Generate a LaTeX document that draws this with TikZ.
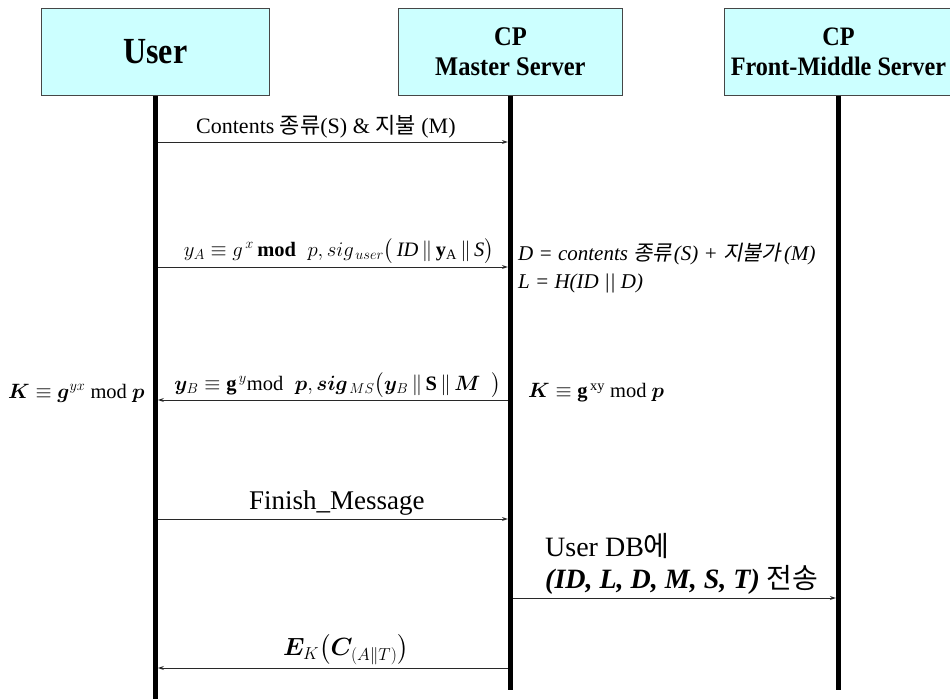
\documentclass[tikz,border=0pt]{standalone}
\usepackage{amsmath,bm}
\usepackage{graphicx}
\usepackage{fontspec}
\setmainfont{Liberation Serif}
\newfontfamily\kr{Noto Sans CJK KR}
\newfontfamily\krit[FakeSlant=0.2]{Noto Sans CJK KR}
\usetikzlibrary{arrows.meta}
\definecolor{boxfill}{RGB}{204,255,255}
\definecolor{boxline}{RGB}{70,70,70}
\definecolor{msgline}{RGB}{40,40,40}
% tall, narrow title lettering
\newcommand\talltext[2][1.1]{\scalebox{1}[#1]{#2}}
\tikzset{
  actor/.style={draw=boxline, fill=boxfill, line width=0.8pt, align=center,
    anchor=north west, inner sep=0pt},
  lifeline/.style={line width=5pt, black},
  msg/.style={draw=msgline, line width=1pt, -{Stealth[length=6pt,width=4pt]}},
  lbl/.style={inner sep=0pt},
  side/.style={inner sep=0pt, anchor=west, align=left},
}
\begin{document}
\begin{tikzpicture}[x=1pt,y=-1pt]
\useasboundingbox (0,0) rectangle (950,699);

% actor boxes
\node[actor, minimum width=228pt, minimum height=87pt,
      font=\bfseries\fontsize{32}{34}\selectfont] (user) at (41,8) {\talltext[1.15]{User}};
\node[actor, minimum width=224pt, minimum height=87pt,
      font=\bfseries\fontsize{24.5}{30}\selectfont] (ms) at (398,8)
      {\talltext{CP}\\\talltext{Master Server}};
\node[actor, minimum width=228pt, minimum height=87pt,
      font=\bfseries\fontsize{24.2}{30}\selectfont] (fm) at (724,8)
      {\talltext{CP}\\\talltext{Front-Middle Server}};

% lifeline ends
\coordinate (userend) at (user.south |- 0,699);
\coordinate (msend) at (ms.south |- 0,690);
\coordinate (fmend) at (fm.south |- 0,690);
\draw[lifeline] (user.south) -- (userend);
\draw[lifeline] (ms.south) -- (msend);
\draw[lifeline] (fm.south) -- (fmend);

% message anchor points on the lifelines
\foreach \n/\y in {1/142,2/267,3/400,4/519,6/668}{
  \coordinate (u\n) at ([xshift=2.5pt]user.south |- 0,\y);
  \coordinate (m\n) at ([xshift=-2.5pt]ms.south |- 0,\y);
}
\coordinate (m5) at ([xshift=2.5pt]ms.south |- 0,598);
\coordinate (f5) at ([xshift=-2.5pt]fm.south |- 0,598);

% messages
\draw[msg] (u1) -- (m1)
  node[lbl, midway, above=3pt, xshift=-7pt, font=\fontsize{22}{24}\selectfont] (l1)
  {Contents {\kr 종류}(S) \& {\kr 지불} (M)};
\draw[msg] (u2) -- (m2)
  node[lbl, midway, above=3pt, xshift=6pt, font=\fontsize{20.5}{22}\selectfont] (l2)
  {$y_A \equiv g^{\,x}\,\mathbf{mod}\;\;p, sig_{\,user}\bigl(\,\mathit{ID}\,\|\,\mathbf{y}_{\mathrm{A}}\,\|\,\mathit{S}\bigr)$};
\draw[msg] (m3) -- (u3)
  node[lbl, midway, above=2pt, xshift=5pt, font=\fontsize{20.5}{22}\selectfont] (l3)
  {$\bm{y}_B \equiv \mathbf{g}^{\,y}\mathrm{mod}\;\;\bm{p}, \bm{sig}_{\,MS}\bigl(\bm{y}_B\,\|\,\mathbf{S}\,\|\,\bm{M}\;\;\bigr)$};
\draw[msg] (u4) -- (m4)
  node[lbl, midway, above=3pt, xshift=4pt, font=\fontsize{27}{29}\selectfont] (l4) {Finish\_Message};
\draw[msg] (m5) -- (f5);
\node[side, font=\fontsize{28}{32}\selectfont] (l5) at (545,564)
  {User DB{\kr 에}\\\textbf{\textit{(ID, L, D, M, S, T)}} {\kr 전송}};
\draw[msg] (m6) -- (u6)
  node[lbl, midway, above=3pt, xshift=13pt, font=\fontsize{23}{25}\selectfont] (l6)
  {$\bm{E}_{K}\bigl(\bm{C}_{(A\|T)}\bigr)$};

% computations beside the lifelines
\node[side, font=\itshape\fontsize{21}{28}\selectfont] (dl) at (518,268)
  {D = contents {\krit 종류}\kern2pt(S) + {\krit 지불가}\kern3pt(M)\\L = H(ID || D)};
\node[side, font=\fontsize{20.5}{22}\selectfont] (ku) at (8,393)
  {$\bm{K} \equiv \bm{g}^{yx}$ mod $\bm{p}$};
\node[side, font=\fontsize{20.5}{22}\selectfont] (km) at (528,393)
  {$\bm{K} \equiv \mathbf{g}^{\,\mathrm{xy}}$ mod $\bm{p}$};
\end{tikzpicture}
\end{document}
